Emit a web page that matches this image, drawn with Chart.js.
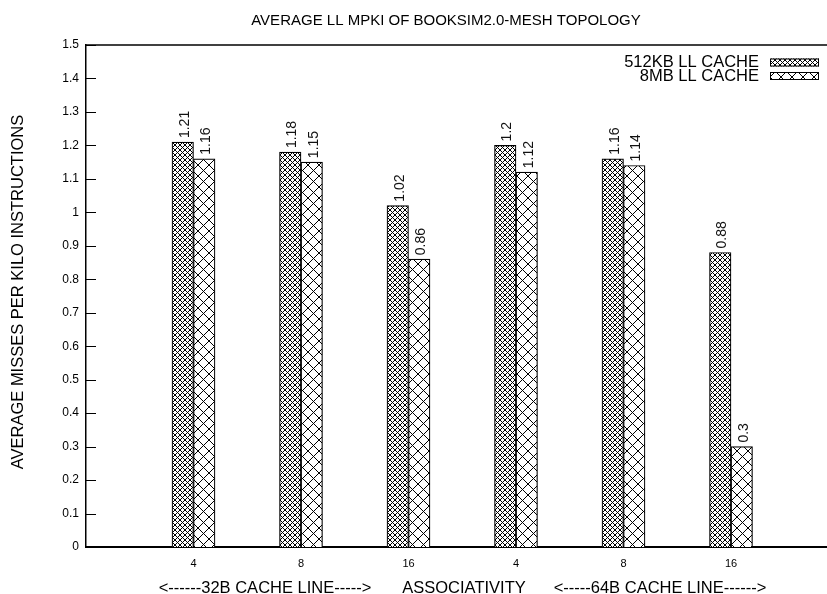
<!DOCTYPE html>
<html>
<head>
<meta charset="utf-8">
<script src="https://cdn.jsdelivr.net/npm/chart.js@4/dist/chart.umd.min.js"></script>
<style>
  html, body { margin: 0; padding: 0; background: #fff; overflow: hidden; }
  #wrap { width: 827px; height: 594px; }
</style>
</head>
<body>
<div id="wrap"><canvas id="c" width="827" height="594"></canvas></div>
<script>
// Chart texts
const chartTitle = 'AVERAGE LL MPKI OF BOOKSIM2.0-MESH TOPOLOGY';
const yAxisTitle = 'AVERAGE MISSES PER KILO INSTRUCTIONS';
const groupLabels = ['<------32B CACHE LINE----->', 'ASSOCIATIVITY', '<-----64B CACHE LINE------>'];
const seriesNames = ['512KB LL CACHE', '8MB LL CACHE'];

// Associativity of each configuration (first three: 32B lines, last three: 64B lines)
const associativity = ['4', '8', '16', '4', '8', '16'];

// Average LL misses per kilo instructions
const mpki512KB = [1.21, 1.18, 1.02, 1.2, 1.16, 0.88];
const mpki8MB   = [1.16, 1.15, 0.86, 1.12, 1.14, 0.3];

// Y axis tick values
const yTicks = [0, 0.1, 0.2, 0.3, 0.4, 0.5, 0.6, 0.7, 0.8, 0.9, 1, 1.1, 1.2, 1.3, 1.4, 1.5];

const FONT = "'Liberation Sans', Arial, Helvetica, sans-serif";

// Cross-hatch fill: two diagonal line families on a square tile
function crossHatch(size, lw) {
  const t = document.createElement('canvas');
  t.width = size; t.height = size;
  const g = t.getContext('2d');
  g.fillStyle = '#fff';
  g.fillRect(0, 0, size, size);
  g.strokeStyle = '#000';
  g.lineWidth = lw;
  g.beginPath();
  g.moveTo(-1, -1); g.lineTo(size + 1, size + 1);
  g.moveTo(-1, size + 1); g.lineTo(size + 1, -1);
  g.stroke();
  return g.createPattern(t, 'repeat');
}
const denseHatch = crossHatch(5, 1);
const sparseHatch = crossHatch(11, 1);

const toPoints = arr => arr.map((v, i) => ({ x: i + 1, y: v }));

const decorPlugin = {
  id: 'decor',
  afterDraw(chart) {
    const { ctx, chartArea: a, scales } = chart;
    const y = scales.y;
    ctx.save();

    // top frame line
    ctx.strokeStyle = '#000';
    ctx.lineWidth = 1.5;
    ctx.beginPath();
    ctx.moveTo(a.left, a.top);
    ctx.lineTo(a.right, a.top);
    ctx.stroke();

    // inward ticks on the value axis
    ctx.lineWidth = 1;
    yTicks.forEach(v => {
      const py = Math.round(y.getPixelForValue(v)) + 0.5;
      ctx.beginPath();
      ctx.moveTo(a.left, py);
      ctx.lineTo(a.left + 10, py);
      ctx.stroke();
    });

    // value labels above each bar, rotated
    ctx.fillStyle = '#111';
    ctx.font = '14px ' + FONT;
    ctx.textAlign = 'left';
    ctx.textBaseline = 'middle';
    chart.data.datasets.forEach((ds, di) => {
      const meta = chart.getDatasetMeta(di);
      meta.data.forEach((bar, i) => {
        ctx.save();
        ctx.translate(bar.x + 2, bar.y - 4);
        ctx.rotate(-Math.PI / 2);
        ctx.fillText(String(ds.data[i].y), 0, 0);
        ctx.restore();
      });
    });

    // legend
    ctx.font = '16.5px ' + FONT;
    ctx.textAlign = 'right';
    ctx.fillStyle = '#000';
    const fills = [denseHatch, sparseHatch];
    const rows = [62.5, 76];
    seriesNames.forEach((name, i) => {
      ctx.fillText(name, 759, rows[i]);
      ctx.fillStyle = fills[i];
      ctx.fillRect(770, rows[i] - 4, 49, 8);
      ctx.strokeStyle = '#000';
      ctx.lineWidth = 1;
      ctx.strokeRect(770.5, rows[i] - 3.5, 48, 7);
      ctx.fillStyle = '#000';
    });

    // chart title
    ctx.textAlign = 'center';
    ctx.font = '15px ' + FONT;
    ctx.fillText(chartTitle, 446, 21);

    // grouping labels under the category axis
    ctx.font = '16.5px ' + FONT;
    const gx = [265, 464, 660];
    groupLabels.forEach((t, i) => ctx.fillText(t, gx[i], 588));

    // value axis title
    ctx.save();
    ctx.translate(18, 292);
    ctx.rotate(-Math.PI / 2);
    ctx.fillText(yAxisTitle, 0, 0);
    ctx.restore();

    ctx.restore();
  }
};

new Chart(document.getElementById('c'), {
  type: 'bar',
  data: {
    datasets: [
      { label: seriesNames[0], data: toPoints(mpki512KB), backgroundColor: denseHatch,
        borderColor: '#000', borderWidth: 1.2, barThickness: 21.5 },
      { label: seriesNames[1], data: toPoints(mpki8MB), backgroundColor: sparseHatch,
        borderColor: '#000', borderWidth: 1.2, barThickness: 21.5 }
    ]
  },
  options: {
    responsive: false,
    animation: false,
    devicePixelRatio: 1,
    layout: { padding: { left: 0, right: 0, top: 45, bottom: 0 } },
    plugins: { legend: { display: false }, title: { display: false }, tooltip: { enabled: false } },
    scales: {
      x: {
        type: 'linear',
        offset: false,
        min: 0,
        max: 741 / 107.5,
        grid: { display: false, drawTicks: false, offset: false },
        border: { display: true, color: '#000', width: 2 },
        afterBuildTicks(scale) { scale.ticks = associativity.map((_, i) => ({ value: i + 1 })); },
        afterFit(scale) { scale.height = 47; },
        ticks: {
          autoSkip: false, maxRotation: 0, padding: 10,
          color: '#000', font: { family: FONT, size: 11 },
          callback: v => associativity[Math.round(v) - 1] ?? ''
        }
      },
      y: {
        min: 0,
        max: 1.5,
        grid: { display: false, drawTicks: false },
        border: { display: true, color: '#000', width: 1.5 },
        afterBuildTicks(scale) { scale.ticks = yTicks.map(v => ({ value: v })); },
        afterFit(scale) { scale.width = 86; },
        ticks: {
          padding: 7, color: '#000', font: { family: FONT, size: 12 },
          callback: v => String(Number(v.toFixed(1)))
        }
      }
    }
  },
  plugins: [decorPlugin]
});
</script>
</body>
</html>
